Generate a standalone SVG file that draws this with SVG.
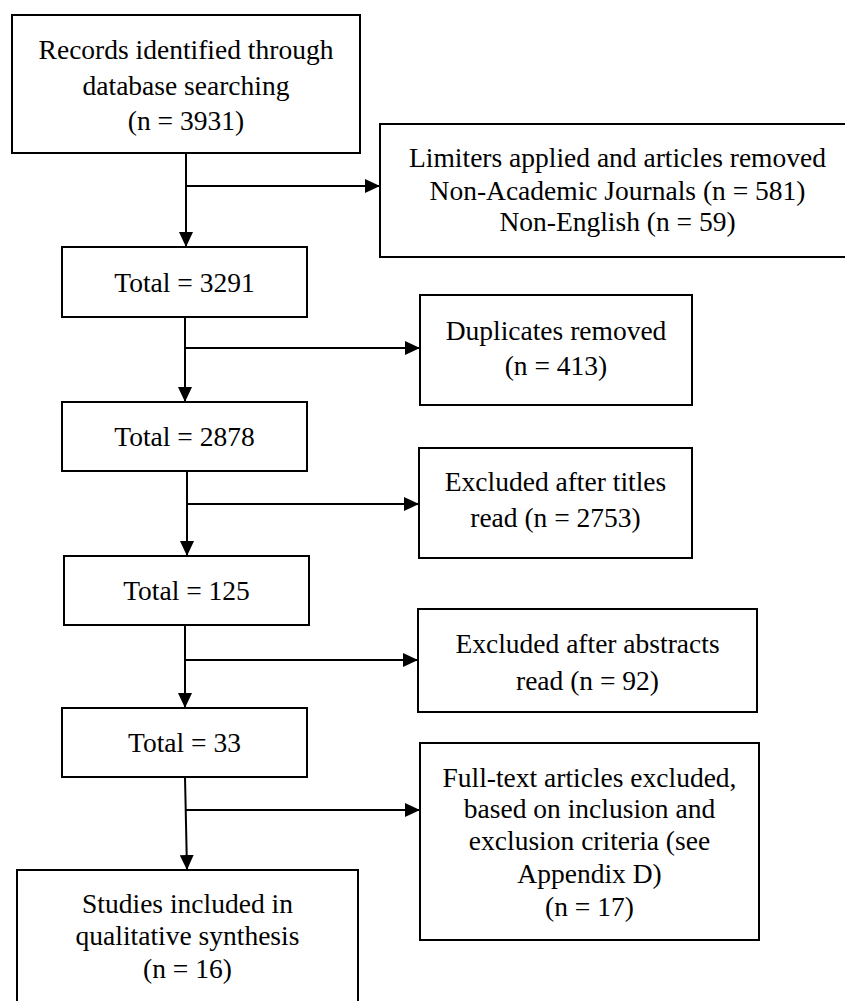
<svg xmlns="http://www.w3.org/2000/svg" width="845" height="1001" viewBox="0 0 845 1001">
<style>
.box{fill:#fff;stroke:#000;stroke-width:2}
.t{font-family:"Liberation Serif","Times New Roman",serif;font-size:27.5px;fill:#000;text-anchor:middle}
.c{fill:none;stroke:#000;stroke-width:2}
</style>
<defs>
<marker id="ah" markerUnits="userSpaceOnUse" markerWidth="16" markerHeight="14" refX="15" refY="7" orient="auto">
<path d="M0,0 L15,7 L0,14 Z" fill="#000"/>
</marker>
</defs>
<rect width="845" height="1001" fill="#fff"/>
<g id="connectors">
<line class="c" x1="186" y1="150" x2="186" y2="247" marker-end="url(#ah)"/>
<line class="c" x1="186" y1="186" x2="380" y2="186" marker-end="url(#ah)"/>
<line class="c" x1="185" y1="317" x2="185" y2="402" marker-end="url(#ah)"/>
<line class="c" x1="185" y1="348" x2="420" y2="348" marker-end="url(#ah)"/>
<line class="c" x1="187" y1="471" x2="187" y2="556" marker-end="url(#ah)"/>
<line class="c" x1="187" y1="504" x2="419" y2="504" marker-end="url(#ah)"/>
<line class="c" x1="185" y1="625" x2="185" y2="708" marker-end="url(#ah)"/>
<line class="c" x1="185" y1="660" x2="418" y2="660" marker-end="url(#ah)"/>
<line class="c" x1="185" y1="777" x2="187" y2="870" marker-end="url(#ah)"/>
<line class="c" x1="186" y1="810" x2="420" y2="810" marker-end="url(#ah)"/>
</g>
<g id="records">
<rect class="box" x="12" y="15" width="348" height="138"/>
<text class="t" x="186" y="59">Records identified through</text>
<text class="t" x="186" y="95">database searching</text>
<text class="t" x="186" y="130">(n = 3931)</text>
</g>
<g id="limiters">
<rect class="box" x="380" y="124" width="475" height="133"/>
<text class="t" x="617.5" y="167">Limiters applied and articles removed</text>
<text class="t" x="617.5" y="200">Non-Academic Journals (n = 581)</text>
<text class="t" x="617.5" y="231">Non-English (n = 59)</text>
</g>
<g id="total3291">
<rect class="box" x="62" y="247" width="245" height="70"/>
<text class="t" x="184.5" y="292">Total = 3291</text>
</g>
<g id="duplicates">
<rect class="box" x="420" y="295" width="272" height="110"/>
<text class="t" x="556" y="340">Duplicates removed</text>
<text class="t" x="556" y="375">(n = 413)</text>
</g>
<g id="total2878">
<rect class="box" x="62" y="402" width="245" height="69"/>
<text class="t" x="184.5" y="446">Total = 2878</text>
</g>
<g id="titles">
<rect class="box" x="419" y="448" width="273" height="110"/>
<text class="t" x="555.5" y="491">Excluded after titles</text>
<text class="t" x="555.5" y="527">read (n = 2753)</text>
</g>
<g id="total125">
<rect class="box" x="64" y="556" width="245" height="69"/>
<text class="t" x="186.5" y="600">Total = 125</text>
</g>
<g id="abstracts">
<rect class="box" x="418" y="609" width="339" height="103"/>
<text class="t" x="587.5" y="653">Excluded after abstracts</text>
<text class="t" x="587.5" y="690">read (n = 92)</text>
</g>
<g id="total33">
<rect class="box" x="62" y="708" width="245" height="69"/>
<text class="t" x="184.5" y="752">Total = 33</text>
</g>
<g id="fulltext">
<rect class="box" x="420" y="743" width="339" height="197"/>
<text class="t" x="589.5" y="787">Full-text articles excluded,</text>
<text class="t" x="589.5" y="818">based on inclusion and</text>
<text class="t" x="589.5" y="850">exclusion criteria (see</text>
<text class="t" x="589.5" y="883">Appendix D)</text>
<text class="t" x="589.5" y="916">(n = 17)</text>
</g>
<g id="studies">
<rect class="box" x="17" y="870" width="341" height="140"/>
<text class="t" x="187.5" y="913">Studies included in</text>
<text class="t" x="187.5" y="945">qualitative synthesis</text>
<text class="t" x="187.5" y="978">(n = 16)</text>
</g>
</svg>
